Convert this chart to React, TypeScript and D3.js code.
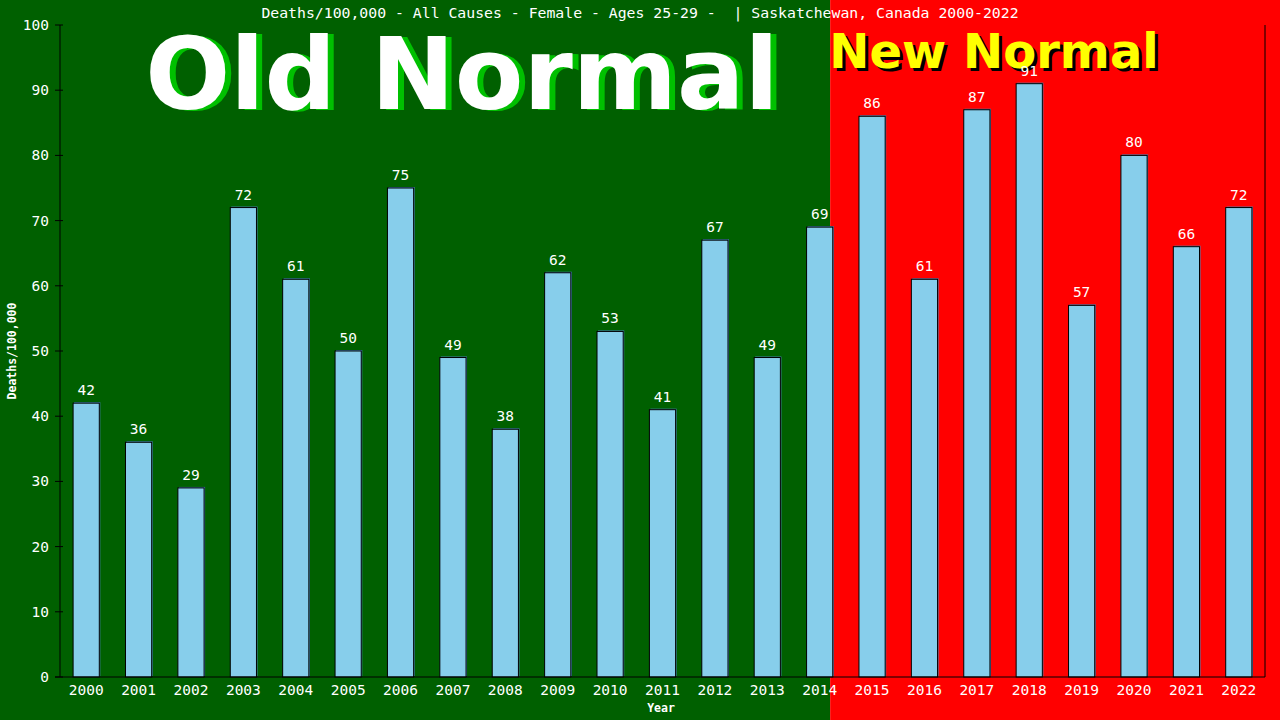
import React from "react";
import * as d3 from "d3";

const years = ["2000","2001","2002","2003","2004","2005","2006","2007","2008","2009","2010","2011","2012","2013","2014","2015","2016","2017","2018","2019","2020","2021","2022"];
const values = [42,36,29,72,61,50,75,49,38,62,53,41,67,49,69,86,61,87,91,57,80,66,72];
const yTicks = [0,10,20,30,40,50,60,70,80,90,100];
const title = "Deaths/100,000 - All Causes - Female - Ages 25-29 -  | Saskatchewan, Canada 2000-2022";
const lastOldYear = "2014";

const W = 1280, H = 720;
const M = { left: 60, right: 1265, top: 25, bottom: 677 };
const mono = "'DejaVu Sans Mono', monospace";

export default function App() {
  const x = d3.scaleBand<string>().domain(years).range([M.left, M.right]).paddingInner(0.5).paddingOuter(0.25);
  const y = d3.scaleLinear().domain([0, 100]).range([M.bottom, M.top]);
  const split = (x(lastOldYear) as number) + x.bandwidth() * 0.9;
  return (
    <svg width={W} height={H} style={{ position: "absolute", left: 0, top: 0, display: "block" }}>
      <rect x={0} y={0} width={split} height={H} fill="#006000" />
      <rect x={split} y={0} width={W - split} height={H} fill="#ff0000" />
      <text x={W / 2} y={18} textAnchor="middle" fill="#fff" fontFamily={mono} fontSize={14.8} style={{ whiteSpace: "pre" }}>{title}</text>
      {/* Big labels */}
      <text x={468} y={110} textAnchor="middle" fill="#00c000" fontFamily="'DejaVu Sans', sans-serif" fontWeight="bold" fontSize={100}>Old Normal</text>
      <text x={462} y={109} textAnchor="middle" fill="#fff" fontFamily="'DejaVu Sans', sans-serif" fontWeight="bold" fontSize={100}>Old Normal</text>
      <text x={997} y={71} textAnchor="middle" fill="#000" fontFamily="'DejaVu Sans', sans-serif" fontWeight="bold" fontSize={48}>New Normal</text>
      <text x={994} y={68} textAnchor="middle" fill="#ffff00" fontFamily="'DejaVu Sans', sans-serif" fontWeight="bold" fontSize={48}>New Normal</text>
      {/* Bars */}
      {values.map((v, i) => {
        const bx = x(years[i]) as number;
        const bw = x.bandwidth();
        const by = y(v);
        return (
          <g key={years[i]}>
            <rect x={bx + 1} y={by - 1} width={bw} height={M.bottom - by} fill="#4682b4" />
            <rect x={bx} y={by} width={bw} height={M.bottom - by} fill="#87ceeb" stroke="#000" strokeWidth={1} />
            <text x={bx + bw / 2} y={by - 8} textAnchor="middle" fill="#fff" fontFamily={mono} fontSize={14.5}>{v}</text>
            <text x={bx + bw / 2} y={695} textAnchor="middle" fill="#fff" fontFamily={mono} fontSize={14.5}>{years[i]}</text>
          </g>
        );
      })}
      {/* Axes */}
      <line x1={M.left} x2={M.left} y1={M.top} y2={M.bottom} stroke="#000" />
      <line x1={M.left - 5} x2={M.right} y1={M.bottom} y2={M.bottom} stroke="#000" />
      <line x1={M.right} x2={M.right} y1={M.top} y2={M.bottom} stroke="#000" />
      {yTicks.map((t) => (
        <g key={t}>
          <line x1={M.left - 5} x2={M.left + 3} y1={y(t)} y2={y(t)} stroke="#000" />
          <text x={49} y={y(t)} dy="0.35em" textAnchor="end" fill="#fff" fontFamily={mono} fontSize={14.5}>{t}</text>
        </g>
      ))}
      <text transform={`translate(16,${(M.top + M.bottom) / 2}) rotate(-90)`} textAnchor="middle" fill="#fff" fontFamily={mono} fontWeight="bold" fontSize={11.5}>Deaths/100,000</text>
      <text x={661} y={712} textAnchor="middle" fill="#fff" fontFamily={mono} fontWeight="bold" fontSize={11.5}>Year</text>
    </svg>
  );
}
